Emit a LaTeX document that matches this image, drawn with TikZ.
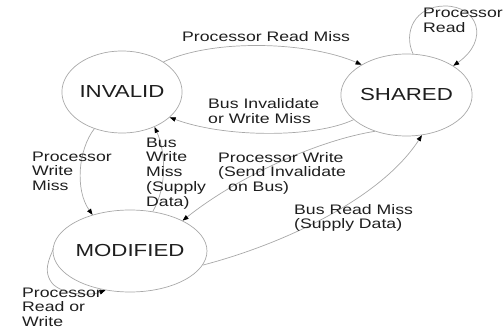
\documentclass[tikz,border=0pt]{standalone}
\usepackage{fontspec}
\usetikzlibrary{arrows.meta,shapes.geometric}
\newfontfamily\diagfont[FakeStretch=1.28]{Liberation Sans}
\definecolor{edgegray}{HTML}{A8A8A8}
\definecolor{inkdark}{HTML}{1E1E1E}

\begin{document}
\begin{tikzpicture}[x=1pt,y=-1pt,
  state/.style={ellipse, draw=edgegray, line width=0.7pt, minimum width=114pt,
    minimum height=82pt, inner sep=0pt, text=inkdark,
    font=\diagfont\fontsize{17.4}{20}\selectfont},
  lbl/.style={anchor=base west, inner sep=0pt, align=left, text=inkdark,
    font=\diagfont\fontsize{13.8}{14.8}\selectfont},
  trans/.style={draw=edgegray, line width=0.7pt,
    -{Triangle[length=6pt,width=4.5pt,color=black]}}
]
\useasboundingbox (0,0) rectangle (504,329);

% states
\node[state] (inv) at (122,92)   {INVALID};
\node[state] (sh)  at (406.5,95) {SHARED};
\node[state] (mod) at (130,251)  {MODIFIED};

% transitions
\draw[trans] (inv.36) .. controls (215,38) and (310,42) .. (sh.146);
\draw[trans] (sh.205) .. controls (315,138) and (225,138) .. (inv.-28);
\draw[trans] (sh.229) .. controls (320,140) and (240,175) .. (mod.30);
\draw[trans] (mod.60) .. controls (168,185) and (165,150) .. (inv.-47);
\draw[trans] (inv.-127) .. controls (78,150) and (75,190) .. (mod.136);
\draw[trans] (mod.-11) .. controls (280,245) and (380,200) .. (sh.-69);
\draw[trans] (sh.81) .. controls (403,32) and (415,6) .. (445,6)
                     .. controls (478,6) and (490,40) .. (sh.32);
\draw[trans] (mod.178) .. controls (55,250) and (40,268) .. (52,283)
                       .. controls (62,295) and (90,296) .. (mod.-122);

% transition labels (placed at the baseline of their last line)
\node[lbl] (lrm)  at (182,42)    {Processor Read Miss};
\node[lbl] (lpr)  at (423,32.8)  {Processor\\Read};
\node[lbl] (lbi)  at (208,123.8) {Bus Invalidate\\or Write Miss};
\node[lbl] (lbw)  at (146,206.2) {Bus\\Write\\Miss\\(Supply\\Data)};
\node[lbl] (lpwm) at (32,190.6)  {Processor\\Write\\Miss};
\node[lbl] (lpw)  at (218,191.6) {Processor Write\\(Send Invalidate\\\hspace*{10pt}on Bus)};
\node[lbl] (lbr)  at (294,228.8) {Bus Read Miss\\(Supply Data)};
\node[lbl] (lprw) at (22,326.6)  {Processor\\Read or\\Write};
\end{tikzpicture}
\end{document}
